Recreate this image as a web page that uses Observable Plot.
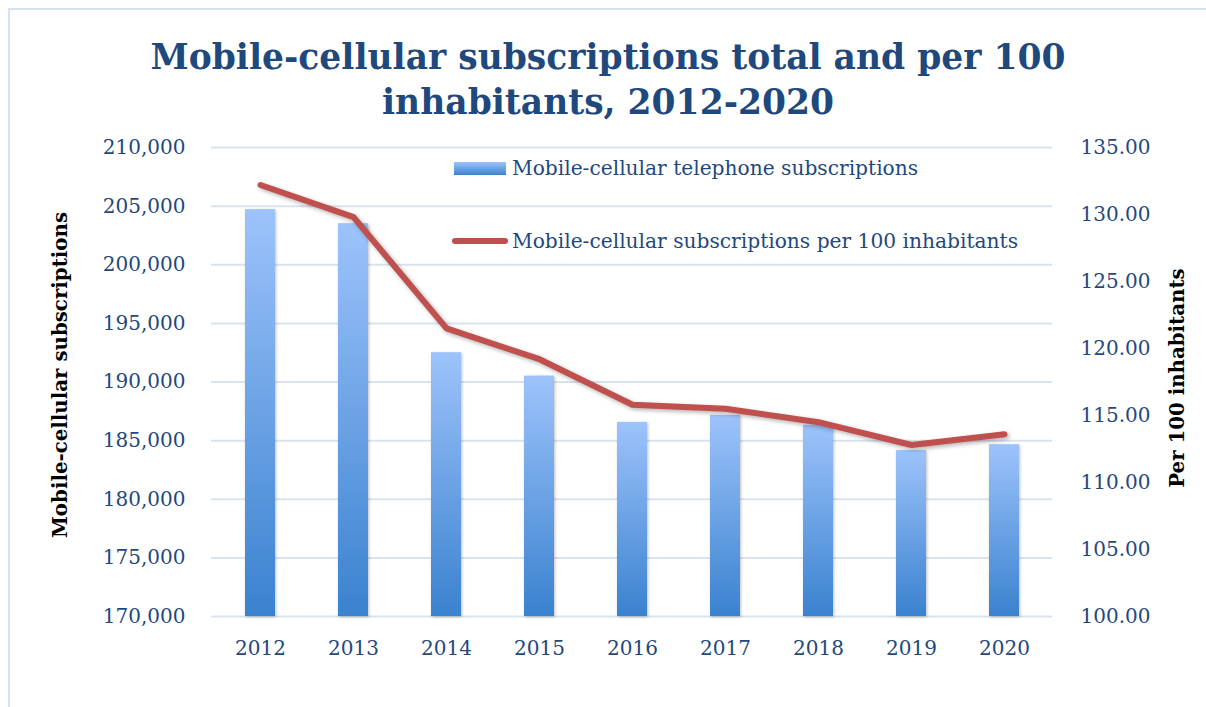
<!DOCTYPE html>
<html><head><meta charset="utf-8">
<script src="https://cdn.jsdelivr.net/npm/d3@7"></script>
<script src="https://cdn.jsdelivr.net/npm/@observablehq/plot@0.6"></script>
<style>
body{margin:0;background:#fff;}
#wrap{position:relative;width:1206px;height:707px;overflow:hidden;background:#fff;}
#frame{position:absolute;left:8px;top:8px;width:1230px;height:730px;border-left:2px solid #D6E2F2;border-top:2px solid #D6E2F2;}
#title{position:absolute;left:0;top:35px;width:1216px;text-align:center;font-family:"DejaVu Serif";font-weight:bold;font-size:34.5px;color:#1F497D;line-height:45px;}
#chart{position:absolute;left:0;top:120px;}
.leg{position:absolute;font-family:"DejaVu Serif";font-size:20.2px;color:#1F497D;white-space:nowrap;transform:translateY(-50%);}
.ytitle{position:absolute;font-family:"DejaVu Serif";font-weight:bold;font-size:19.8px;color:#000;white-space:nowrap;transform:translate(-50%,-50%) rotate(-90deg);}
</style></head>
<body>
<div id="wrap">
  <div id="frame"></div>
  <div id="title">Mobile-cellular subscriptions total and per 100<br>inhabitants, 2012-2020</div>
  <div id="chart"></div>
  <div id="legBar" style="position:absolute;left:454px;top:162px;width:52px;height:13px;background:linear-gradient(#9DC3FB,#3A82CF);"></div>
  <div class="leg" style="left:512px;top:168px;">Mobile-cellular telephone subscriptions</div>
  <div style="position:absolute;left:452px;top:238px;width:56px;height:6px;border-radius:3px;background:#C0504D;"></div>
  <div class="leg" style="left:512px;top:241px;">Mobile-cellular subscriptions per 100 inhabitants</div>
  <div class="ytitle" style="left:60px;top:375px;">Mobile-cellular subscriptions</div>
  <div class="ytitle" style="left:1177px;top:378px;">Per 100 inhabitants</div>
</div>
<script>
const years = ["2012","2013","2014","2015","2016","2017","2018","2019","2020"];
const totals = [204700, 203500, 192500, 190500, 186550, 187150, 186300, 184150, 184650];
const per100 = [132.2, 129.8, 121.5, 119.2, 115.8, 115.5, 114.5, 112.8, 113.6];
const leftTicks = [170000,175000,180000,185000,190000,195000,200000,205000,210000];
const rightTicks = [100,105,110,115,120,125,130,135];

const L0 = 170000, L1 = 210000, R0 = 100, R1 = 135;
const toLeft = v => L0 + (v - R0) * (L1 - L0) / (R1 - R0);
const fromLeft = v => R0 + (v - L0) * (R1 - R0) / (L1 - L0);

const data = years.map((y, i) => ({year: y, total: totals[i], per100: per100[i]}));
const textColor = "#1F497D";
const font = "DejaVu Serif";

const chart = Plot.plot({
  width: 1206,
  height: 587,
  marginTop: 27,
  marginBottom: 91,
  marginLeft: 211,
  marginRight: 154,
  style: {fontFamily: font, background: "transparent", overflow: "visible"},
  x: {type: "band", domain: years, paddingInner: 0.68, paddingOuter: 0.34, axis: null},
  y: {domain: [L0, L1], axis: null},
  marks: [
    Plot.gridY(leftTicks, {stroke: "#D9E3F0", strokeOpacity: 1, strokeWidth: 2}),
    Plot.barY(data, {x: "year", y1: L0, y2: "total", fill: "url(#barGrad)", className: "bars"}),
    Plot.line(data, {x: "year", y: d => toLeft(d.per100), stroke: "#C0504D", strokeWidth: 6, strokeLinecap: "round", strokeLinejoin: "round", className: "ln"}),
    Plot.axisY(leftTicks, {anchor: "left", tickSize: 0, tickPadding: 26, tickFormat: d3.format(","), fontSize: 20, fill: textColor, label: null}),
    Plot.axisY(rightTicks.map(toLeft), {anchor: "right", tickSize: 0, tickPadding: 28, tickFormat: d => fromLeft(d).toFixed(2), fontSize: 20, fill: textColor, label: null}),
    Plot.axisX({tickSize: 0, tickPadding: 24, fontSize: 20, fill: textColor, label: null})
  ]
});

const defs = d3.select(chart).insert("defs", ":first-child");
const g = defs.append("linearGradient").attr("id", "barGrad").attr("x1", 0).attr("y1", 0).attr("x2", 0).attr("y2", 1);
g.append("stop").attr("offset", "0%").attr("stop-color", "#9DC3FB");
g.append("stop").attr("offset", "100%").attr("stop-color", "#3A82CF");
d3.select(chart).selectAll(".bars rect").style("filter", "drop-shadow(1px 1px 1.5px rgba(0,0,0,0.25))");
d3.select(chart).selectAll(".ln path").style("filter", "drop-shadow(2px 2px 2px rgba(0,0,0,0.3))");

document.getElementById("chart").appendChild(chart);
</script>
</body></html>
